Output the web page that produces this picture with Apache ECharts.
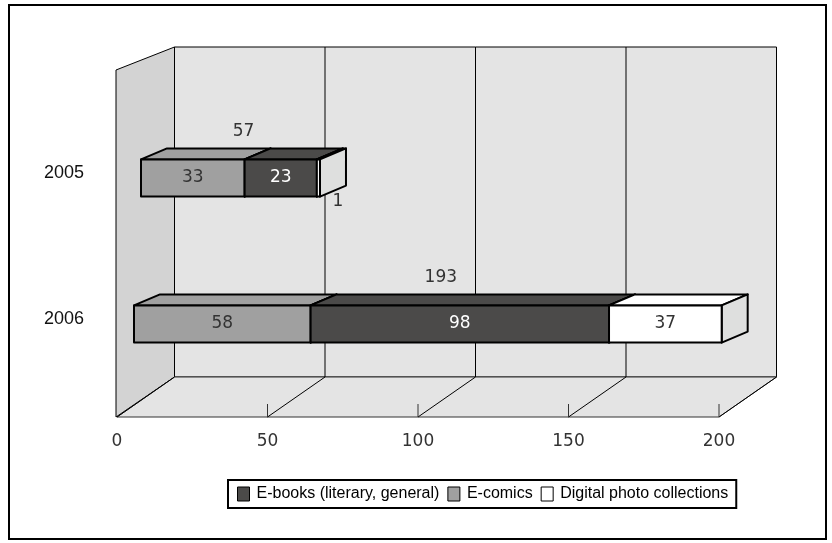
<!DOCTYPE html>
<html>
<head>
<meta charset="utf-8">
<script src="https://cdn.jsdelivr.net/npm/echarts@6/dist/echarts.min.js"></script>
<style>
  html, body { margin: 0; padding: 0; background: #fff; }
  #chart { width: 832px; height: 543px; }
</style>
</head>
<body>
<div id="chart"></div>
<script>
// Electronic publishing sales by content type (stacked, per year)
const years = ['2005', '2006'];
const eComics = [33, 58];
const eBooks = [23, 98];
const photoCollections = [1, 37];
const totals = [57, 193];
const xTicks = [0, 50, 100, 150, 200];

const NAME_BOOKS = 'E-books (literary, general)';
const NAME_COMICS = 'E-comics';
const NAME_PHOTO = 'Digital photo collections';

const NUM_FONT = '17px "DejaVu Sans", sans-serif';

// Bar box depth (oblique projection) and wall depth
const BAR_DX = 26, BAR_DY = -11;
const WALL_DX = 57.5, FLOOR_DY = -40, TOP_DY = -23;

// Each year row sits on its own perspective plane (grid), the walls on the front plane
const rowGrids = [
  { left: 141, top: 105, width: 628, height: 146, labelMargin: 57 },
  { left: 134, top: 251, width: 609, height: 146, labelMargin: 50 }
];
const wallGrid = { left: 117, top: 47, width: 602, height: 370 };

// Stacked segments in draw order (left to right)
const stackOrder = [
  { name: NAME_COMICS, values: eComics, front: '#a0a0a0', top: '#a0a0a0', side: '#8c8c8c', text: '#333' },
  { name: NAME_BOOKS, values: eBooks, front: '#4b4a49', top: '#4b4a49', side: '#3c3b3a', text: '#fff' },
  { name: NAME_PHOTO, values: photoCollections, front: '#ffffff', top: '#ffffff', side: '#dedfde', text: '#333' }
];
const running = years.map(() => 0);
const stackedRows = stackOrder.map(s => s.values.map((v, i) => {
  const start = running[i];
  running[i] += v;
  return [start, start + v, 0, v];
}));

function boxRenderer(style) {
  return function (params, api) {
    const start = api.value(0), end = api.value(1), val = api.value(3);
    const p0 = api.coord([start, 0]);
    const p1 = api.coord([end, 0]);
    const h = api.size([0, 1])[1] * 0.255;
    const top = p0[1] - h / 2, bottom = p0[1] + h / 2;
    const x0 = p0[0], x1 = p1[0];
    const line = { stroke: '#000', lineWidth: 2, lineJoin: 'round' };
    const children = [
      { type: 'polygon', shape: { points: [[x0, top], [x0 + BAR_DX, top + BAR_DY], [x1 + BAR_DX, top + BAR_DY], [x1, top]] },
        style: Object.assign({ fill: style.top }, line) },
      { type: 'polygon', shape: { points: [[x1, top], [x1 + BAR_DX, top + BAR_DY], [x1 + BAR_DX, bottom + BAR_DY], [x1, bottom]] },
        style: Object.assign({ fill: style.side }, line) },
      { type: 'rect', shape: { x: x0, y: top, width: x1 - x0, height: bottom - top },
        style: Object.assign({ fill: style.front }, line) }
    ];
    const wide = (x1 - x0) > 24;
    children.push({
      type: 'text',
      style: {
        text: String(val),
        x: wide ? (x0 + x1) / 2 : x1 + 18,
        y: wide ? (top + bottom) / 2 : bottom + 5,
        align: 'center',
        verticalAlign: 'middle',
        fill: wide ? style.text : '#333',
        font: NUM_FONT
      },
      z2: 10
    });
    return { type: 'group', children: children };
  };
}

// Back wall, side wall, floor, grid lines and ticks on the front plane scale
function wallRenderer(params, api) {
  const fx = v => api.coord([v, 0])[0];
  const floorY = api.coord([0, 0])[1];
  const topY = api.coord([0, 1])[1];
  const backFloorY = floorY + FLOOR_DY;
  const lo = xTicks[0], hi = xTicks[xTicks.length - 1];
  const bx = v => fx(v) + WALL_DX;
  const children = [
    { type: 'polygon', shape: { points: [[bx(lo), topY], [bx(hi), topY], [bx(hi), backFloorY], [bx(lo), backFloorY]] },
      style: { fill: '#e4e4e4', stroke: '#000', lineWidth: 1 } },
    { type: 'polygon', shape: { points: [[fx(lo) - 1, topY - TOP_DY], [bx(lo), topY], [bx(lo), backFloorY], [fx(lo) - 1, floorY]] },
      style: { fill: '#d3d3d3', stroke: '#000', lineWidth: 1 } },
    { type: 'polygon', shape: { points: [[fx(lo), floorY], [bx(lo), backFloorY], [bx(hi), backFloorY], [fx(hi), floorY]] },
      style: { fill: '#e4e4e4', stroke: '#333', lineWidth: 1 } }
  ];
  xTicks.forEach(v => {
    if (v !== lo && v !== hi) {
      children.push({ type: 'line', shape: { x1: bx(v), y1: topY, x2: bx(v), y2: backFloorY },
        style: { stroke: '#000', lineWidth: 1 } });
    }
    children.push({ type: 'line', shape: { x1: fx(v), y1: floorY, x2: bx(v), y2: backFloorY },
      style: { stroke: '#000', lineWidth: 1 } });
    if (v !== lo) {
      children.push({ type: 'line', shape: { x1: fx(v), y1: floorY - 13, x2: fx(v), y2: floorY },
        style: { stroke: '#333', lineWidth: 1 } });
    }
  });
  return { type: 'group', children: children };
}

function totalRenderer(params, api) {
  const total = api.value(0);
  const p0 = api.coord([0, 0]);
  const p1 = api.coord([total, 0]);
  const h = api.size([0, 1])[1] * 0.255;
  const top = p0[1] - h / 2;
  return {
    type: 'text',
    style: {
      text: String(total),
      x: (p0[0] + p1[0]) / 2 + BAR_DX / 2,
      y: top + BAR_DY - 17,
      align: 'center',
      verticalAlign: 'middle',
      fill: '#333',
      font: NUM_FONT
    }
  };
}

const grids = rowGrids.map(g => ({ left: g.left, top: g.top, width: g.width, height: g.height }))
  .concat([wallGrid]);
const wallIndex = rowGrids.length;

const xAxes = rowGrids.map((g, i) => ({ gridIndex: i, type: 'value', min: 0, max: 200, show: false }))
  .concat([{
    gridIndex: wallIndex, type: 'value', min: 0, max: 200, interval: 50,
    axisLine: { show: false }, axisTick: { show: false }, splitLine: { show: false },
    axisLabel: { margin: 16, color: '#333', fontFamily: 'DejaVu Sans', fontSize: 17 }
  }]);

const yAxes = rowGrids.map((g, i) => ({
  gridIndex: i, type: 'category', data: [years[i]],
  axisLine: { show: false }, axisTick: { show: false }, splitLine: { show: false },
  axisLabel: {
    margin: g.labelMargin, color: '#111', fontFamily: 'Liberation Sans', fontSize: 18,
    verticalAlign: 'bottom', lineHeight: 10
  }
})).concat([{ gridIndex: wallIndex, type: 'value', min: 0, max: 1, show: false }]);

const series = [{
  name: 'walls',
  type: 'custom',
  xAxisIndex: wallIndex,
  yAxisIndex: wallIndex,
  z: 1,
  silent: true,
  renderItem: wallRenderer,
  data: [[0, 0]]
}];

years.forEach((y, i) => {
  stackOrder.forEach((s, k) => {
    series.push({
      name: s.name,
      type: 'custom',
      xAxisIndex: i,
      yAxisIndex: i,
      z: 3,
      silent: true,
      itemStyle: { color: s.front },
      renderItem: boxRenderer(s),
      encode: { x: [0, 1], y: 2 },
      data: [stackedRows[k][i]]
    });
  });
  series.push({
    name: 'total ' + y,
    type: 'custom',
    xAxisIndex: i,
    yAxisIndex: i,
    z: 4,
    silent: true,
    renderItem: totalRenderer,
    encode: { x: 0, y: 1 },
    data: [[totals[i], 0]]
  });
});

const chart = echarts.init(document.getElementById('chart'), null, { renderer: 'canvas' });
chart.setOption({
  animation: false,
  backgroundColor: '#ffffff',
  graphic: [{
    type: 'rect',
    shape: { x: 9, y: 5, width: 817, height: 534 },
    style: { fill: 'none', stroke: '#000', lineWidth: 2 },
    z: 100
  }],
  grid: grids,
  xAxis: xAxes,
  yAxis: yAxes,
  legend: {
    data: [NAME_BOOKS, NAME_COMICS, NAME_PHOTO],
    left: 228,
    top: 480,
    orient: 'horizontal',
    icon: 'rect',
    itemWidth: 12,
    itemHeight: 14,
    itemGap: 8,
    padding: [6, 8, 6, 9],
    borderColor: '#000',
    borderWidth: 2,
    backgroundColor: '#fff',
    itemStyle: { borderColor: '#000', borderWidth: 1 },
    textStyle: { fontFamily: 'Liberation Sans', fontSize: 16, color: '#000', padding: [0, 0, 0, 2] },
    selectedMode: false
  },
  series: series
});
</script>
</body>
</html>
